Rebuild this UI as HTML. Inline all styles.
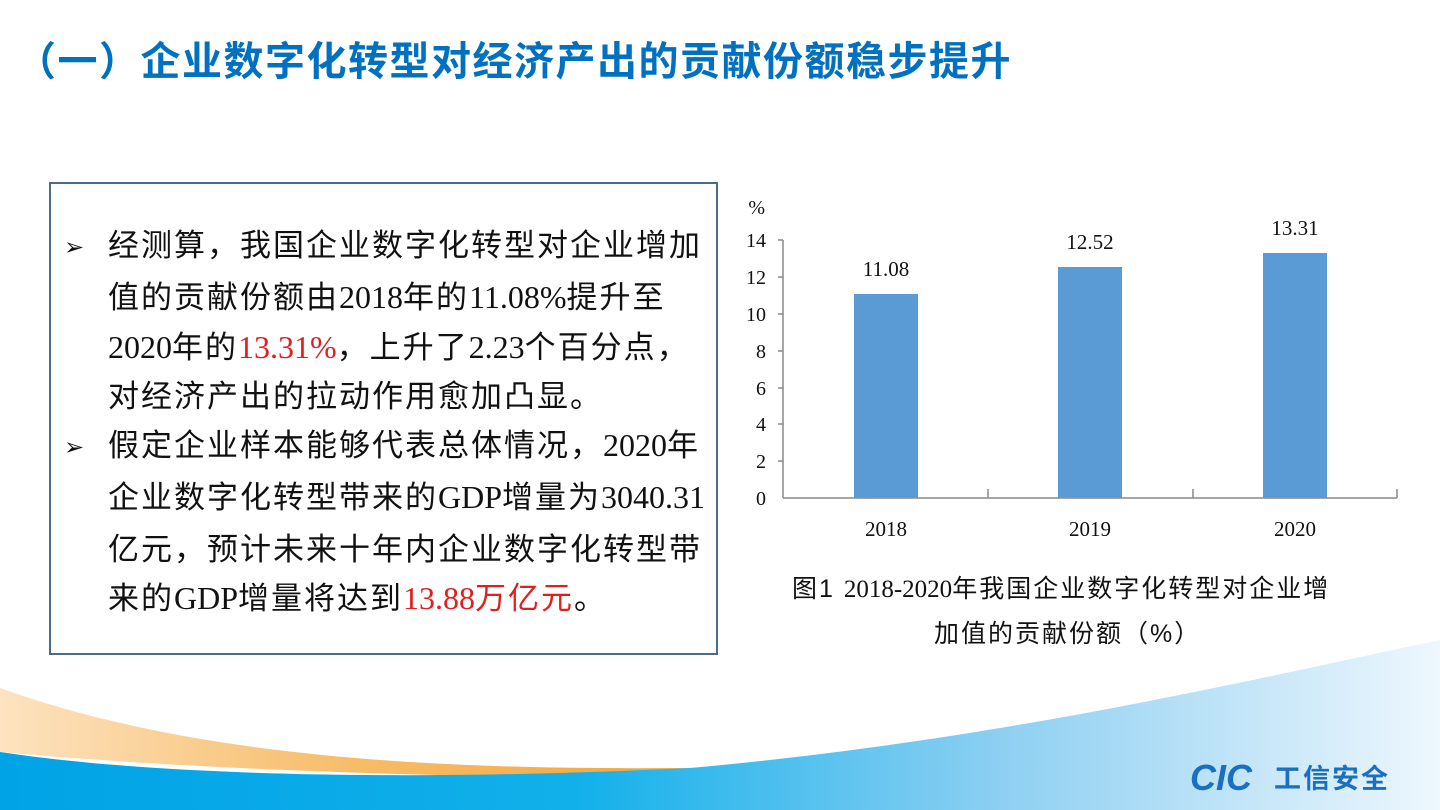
<!DOCTYPE html>
<html><head><meta charset="utf-8"><style>
html,body{margin:0;padding:0;}
body{width:1440px;height:810px;position:relative;overflow:hidden;background:#fff;font-family:"Liberation Sans","Noto Sans CJK SC",sans-serif;}
.title{position:absolute;left:16px;top:29px;font-size:40px;font-weight:bold;color:#0070c0;letter-spacing:1.5px;white-space:nowrap;}
.box{position:absolute;left:49px;top:182px;width:669px;height:473px;border:2px solid #4a6b8a;box-sizing:border-box;}
.p{position:absolute;left:108px;font-size:31px;color:#111;white-space:nowrap;line-height:31px;letter-spacing:2px;}
.b{position:absolute;left:64px;font-size:24px;color:#111;}
.n{font-family:"Liberation Serif","Noto Serif CJK SC",serif;letter-spacing:0;font-size:32px;}
.r{color:#e02020;}
.cap{position:absolute;font-size:25px;color:#111;white-space:nowrap;letter-spacing:2px;}
.cap .n{font-size:25px;}
</style></head><body>
<svg width="1440" height="810" style="position:absolute;left:0;top:0">
<defs>
<linearGradient id="bl" x1="0" x2="1" y1="0" y2="0">
<stop offset="0" stop-color="#00a3e6"/><stop offset="0.4" stop-color="#12b0ea"/><stop offset="0.7" stop-color="#8fd0f2"/><stop offset="1" stop-color="#eef7fd"/></linearGradient>
<linearGradient id="or" x1="0" x2="1" y1="0" y2="0">
<stop offset="0" stop-color="#fde3c0"/><stop offset="0.5" stop-color="#f7bd6a"/><stop offset="1" stop-color="#f2a53a"/></linearGradient>
</defs>
<path d="M0,688 C200,760 450,770 690,768 L690,778 C450,778 200,770 0,752 Z" fill="url(#or)"/>
<path d="M0,752 C150,775 400,782 690,768 C1000,740 1250,680 1440,640 L1440,810 L0,810 Z" fill="url(#bl)"/>
<g stroke="#888" stroke-width="1.5" fill="none">
<line x1="783" y1="240" x2="783" y2="498"/>
<line x1="783" y1="498" x2="1397" y2="498"/>
<line x1="778" y1="240" x2="783" y2="240"/><line x1="778" y1="277" x2="783" y2="277"/>
<line x1="778" y1="314" x2="783" y2="314"/><line x1="778" y1="351" x2="783" y2="351"/>
<line x1="778" y1="388" x2="783" y2="388"/><line x1="778" y1="424" x2="783" y2="424"/>
<line x1="778" y1="461" x2="783" y2="461"/>
<line x1="988" y1="489" x2="988" y2="498"/><line x1="1193" y1="489" x2="1193" y2="498"/><line x1="1397" y1="489" x2="1397" y2="498"/>
</g>
<rect x="854" y="294" width="64" height="204" fill="#5b9bd5"/>
<rect x="1058" y="267" width="64" height="231" fill="#5b9bd5"/>
<rect x="1263" y="253" width="64" height="245" fill="#5b9bd5"/>
<g font-family="Liberation Serif,serif" font-size="20" fill="#111" text-anchor="end">
<text x="766" y="247">14</text><text x="766" y="284">12</text><text x="766" y="321">10</text>
<text x="766" y="358">8</text><text x="766" y="395">6</text><text x="766" y="431">4</text>
<text x="766" y="468">2</text><text x="766" y="505">0</text>
<text x="765" y="214">%</text>
</g>
<g font-family="Liberation Serif,serif" font-size="21" fill="#111" text-anchor="middle">
<text x="886" y="276">11.08</text><text x="1090" y="249">12.52</text><text x="1295" y="235">13.31</text>
<text x="886" y="536">2018</text><text x="1090" y="536">2019</text><text x="1295" y="536">2020</text>
</g>
<g font-family="Liberation Sans,sans-serif" font-weight="bold" font-style="italic" fill="#1a6fc0">
<text x="1190" y="790" font-size="36">CIC</text></g>
<text x="1274" y="788" font-size="27" font-weight="bold" fill="#1a6fc0" letter-spacing="2" font-family="Noto Sans CJK SC,sans-serif">工信安全</text>
</svg>
<div class="title">（一）企业数字化转型对经济产出的贡献份额稳步提升</div>
<div class="box"></div>
<div class="b" style="top:233px">➢</div>
<div class="p" style="top:230px">经测算，我国企业数字化转型对企业增加</div>
<div class="p" style="top:282px">值的贡献份额由<span class="n">2018</span>年的<span class="n">11.08%</span>提升至</div>
<div class="p" style="top:332px"><span class="n">2020</span>年的<span class="n r">13.31%</span>，上升了<span class="n">2.23</span>个百分点，</div>
<div class="p" style="top:381px">对经济产出的拉动作用愈加凸显。</div>
<div class="b" style="top:433px">➢</div>
<div class="p" style="top:430px">假定企业样本能够代表总体情况，<span class="n">2020</span>年</div>
<div class="p" style="top:482px">企业数字化转型带来的<span class="n">GDP</span>增量为<span class="n">3040.31</span></div>
<div class="p" style="top:534px">亿元，预计未来十年内企业数字化转型带</div>
<div class="p" style="top:583px">来的<span class="n">GDP</span>增量将达到<span class="n r">13.88</span><span class="r">万亿元</span>。</div>
<div class="cap" style="left:792px;top:569px">图1 <span class="n">2018-2020</span>年我国企业数字化转型对企业增</div>
<div class="cap" style="left:934px;top:614px">加值的贡献份额（%）</div>
</body></html>
